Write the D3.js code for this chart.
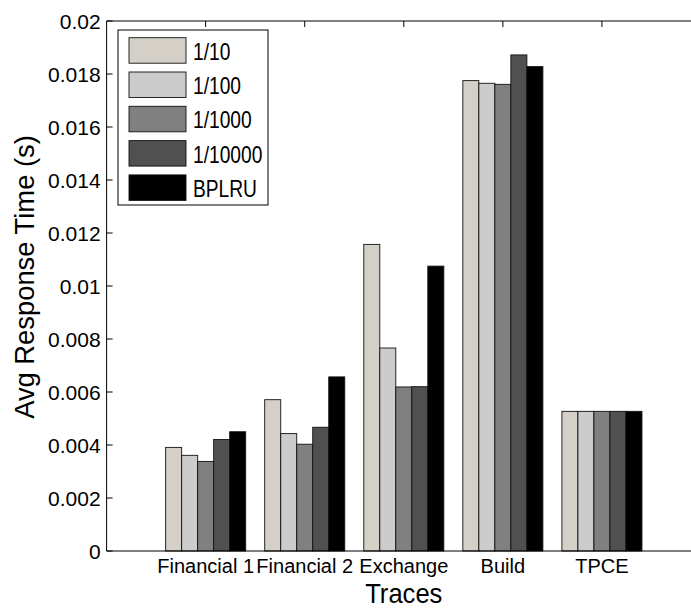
<!DOCTYPE html>
<html>
<head>
<meta charset="utf-8">
<script src="https://cdn.jsdelivr.net/npm/d3@7"></script>
<style>
  body { margin: 0; background: #fff; }
  text { font-family: "Liberation Sans", Arial, sans-serif; fill: #000; }
</style>
</head>
<body>
<div id="chart"></div>
<script>
(() => {
  // chart data
  const traces = ["Financial 1", "Financial 2", "Exchange", "Build", "TPCE"];
  const series = ["1/10", "1/100", "1/1000", "1/10000", "BPLRU"];
  const colors = ["#d4d0c8", "#cccccc", "#808080", "#505050", "#000000"];
  const v10 = [0.00391, 0.00571, 0.01157, 0.01775, 0.00527];
  const v100 = [0.00361, 0.00443, 0.00766, 0.01765, 0.00527];
  const v1000 = [0.00338, 0.00403, 0.00619, 0.01761, 0.00527];
  const v10000 = [0.00421, 0.00467, 0.00620, 0.01872, 0.00527];
  const vBplru = [0.00450, 0.00657, 0.01075, 0.01828, 0.00527];
  const values = [v10, v100, v1000, v10000, vBplru];
  const yTicks = [0, 0.002, 0.004, 0.006, 0.008, 0.01, 0.012, 0.014, 0.016, 0.018, 0.02];
  const yTickLabels = ["0", "0.002", "0.004", "0.006", "0.008", "0.01", "0.012", "0.014", "0.016", "0.018", "0.02"];

  const width = 691, height = 609;
  const svg = d3.select("#chart").append("svg")
    .attr("width", width).attr("height", height);

  // plot box (right edge falls outside the picture)
  const left = 106.6, right = 701, top = 21, bottom = 551;
  const x = d3.scaleLinear().domain([0, 6]).range([left, right]);
  const y = d3.scaleLinear().domain([0, 0.02]).range([bottom, top]);
  const inner = d3.scaleBand().domain(series).range([-0.404, 0.404]).padding(0);

  // bars
  series.forEach((s, j) => {
    svg.append("g").selectAll("rect")
      .data(values[j])
      .enter().append("rect")
      .attr("x", (d, i) => x(i + 1 + inner(s)))
      .attr("width", x(inner.bandwidth()) - x(0))
      .attr("y", d => y(d))
      .attr("height", d => y(0) - y(d))
      .attr("fill", colors[j])
      .attr("stroke", "#111")
      .attr("stroke-width", 0.9);
  });

  // box and inward ticks
  const axes = svg.append("g").attr("stroke", "#000").attr("stroke-width", 1).attr("fill", "none");
  axes.append("path").attr("d", `M${right},${top}H${left}V${bottom}H${right}`);
  axes.selectAll(".yt").data(yTicks).enter().append("line")
    .attr("x1", left).attr("x2", left + 6)
    .attr("y1", d => y(d)).attr("y2", d => y(d));
  axes.selectAll(".xt").data(traces).enter().append("line")
    .attr("x1", (d, i) => x(i + 1)).attr("x2", (d, i) => x(i + 1))
    .attr("y1", top).attr("y2", top + 6);

  // tick labels
  svg.append("g").selectAll("text").data(yTicks).enter().append("text")
    .attr("x", left - 6).attr("y", d => y(d) + 7.5)
    .attr("text-anchor", "end").attr("font-size", 21)
    .text((d, i) => yTickLabels[i]);
  svg.append("g").selectAll("text").data(traces).enter().append("text")
    .attr("x", (d, i) => x(i + 1)).attr("y", 573)
    .attr("text-anchor", "middle").attr("font-size", 20)
    .text(d => d);

  // axis titles
  svg.append("text")
    .attr("transform", `translate(${(left + right) / 2},603) scale(0.93,1)`)
    .attr("text-anchor", "middle").attr("font-size", 27.5)
    .text("Traces");
  svg.append("text")
    .attr("transform", `translate(34,277) rotate(-90) scale(0.96,1)`)
    .attr("text-anchor", "middle").attr("font-size", 28.5)
    .text("Avg Response Time (s)");

  // legend
  const legend = svg.append("g").attr("transform", "translate(118,30)");
  legend.append("rect")
    .attr("width", 150).attr("height", 175)
    .attr("fill", "#fff").attr("stroke", "#000").attr("stroke-width", 1);
  const items = legend.selectAll("g.item").data(series).enter().append("g")
    .attr("transform", (d, i) => `translate(11,${7.7 + i * 34.3})`);
  items.append("rect")
    .attr("width", 57).attr("height", 25.5)
    .attr("fill", (d, i) => colors[i])
    .attr("stroke", "#111").attr("stroke-width", 0.9);
  items.append("text")
    .attr("transform", "translate(64,22) scale(0.8,1)")
    .attr("font-size", 24)
    .text(d => d);
})();
</script>
</body>
</html>
